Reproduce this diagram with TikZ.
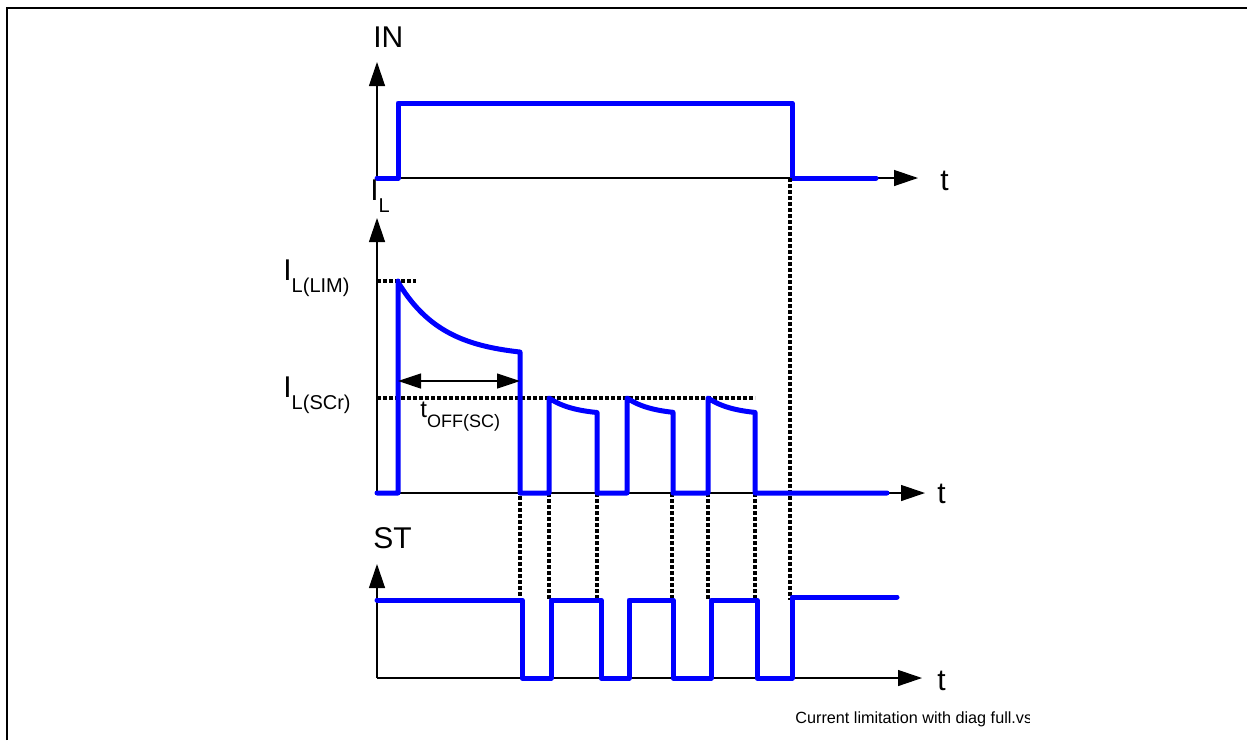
\documentclass[tikz,border=0pt]{standalone}
\usepackage{fontspec}
\setmainfont{Liberation Sans}
\usetikzlibrary{arrows.meta}
\newcommand\mysub[1]{\raisebox{-6pt}{\fontsize{10}{12}\selectfont #1}}
\tikzset{
  axis/.style={line width=0.65pt, -{Triangle[length=12pt,width=8pt]}},
  sig/.style={line width=2.5pt, color=sigblue, line join=round, line cap=round},
  guide/.style={line width=1.6pt, dash pattern=on 1.8pt off 1.2pt, black},
  lbl/.style={anchor=base west, inner sep=0pt, font=\fontsize{15}{18}\selectfont},
  dim/.style={line width=0.6pt, {Triangle[length=11.5pt,width=7.5pt]}-{Triangle[length=11.5pt,width=7.5pt]}},
}
\definecolor{sigblue}{RGB}{0,0,255}
\begin{document}
\begin{tikzpicture}[x=0.5pt,y={(0pt,-0.5pt)}]
\useasboundingbox (0,0) rectangle (1247,740);
% frame
\draw[line width=1pt] (7,740) -- (7,8) -- (1247,8);

% ---- IN ----
\coordinate (in0) at (377,178);
\draw[axis] (in0) -- (377,62);
\draw[axis] (in0) -- (918,178);
\node[lbl] (inlab) at (373,47) {IN};
\node[lbl] (tin) at (940,190) {t};
\draw[sig] (in0) -- (398,178) -- (398,103) -- (792,103) -- (792,178) -- (876,178);

% ---- IL ----
\coordinate (il0) at (377,493);
\node[lbl] (illab) at (370,200) {I\mysub{L}};
\draw[axis] (il0) -- (377,218);
\draw[axis] (il0) -- (925,493);
\node[lbl] (til) at (937,503) {t};
\node[lbl] (lim) at (283,280) {I\mysub{L(LIM)}};
\node[lbl] (scr) at (283,397) {I\mysub{L(SCr)}};
\draw[guide] (377,281) -- (416,281);
\draw[guide] (377,398) -- (755,398);

% dotted verticals
\draw[guide] (520,352) -- (520,600);
\draw[guide] (549,493) -- (549,600);
\draw[guide] (597,493) -- (597,600);
\draw[guide] (672,493) -- (672,600);
\draw[guide] (708,493) -- (708,600);
\draw[guide] (755,493) -- (755,600);
\draw[guide] (790,178) -- (790,600);

% current waveform
\draw[sig] (il0) -- (398,493) -- (398,281)
  -- plot[domain=398:520, samples=50] (\x, {357-75*exp(-(\x-398)/45)})
  -- (520,493) -- (549,493) -- (549,398)
  -- plot[domain=549:597, samples=25] (\x, {398+17*(1-exp(-(\x-549)/25))})
  -- (597,493) -- (627,493) -- (627,398)
  -- plot[domain=627:673, samples=25] (\x, {398+17*(1-exp(-(\x-627)/25))})
  -- (673,493) -- (708,493) -- (708,398)
  -- plot[domain=708:755, samples=25] (\x, {398+17*(1-exp(-(\x-708)/25))})
  -- (755,493) -- (887,493);

% t_OFF(SC)
\coordinate (da) at (398,381);
\coordinate (db) at (520,381);
\draw[dim] (da) -- (db);
\node[anchor=base west, inner sep=0pt, font=\fontsize{12}{14}\selectfont] (toff) at (420,417) {t\raisebox{-5pt}{\fontsize{9}{11}\selectfont OFF(SC)}};

% ---- ST ----
\coordinate (st0) at (377,678);
\node[lbl] (stlab) at (373,548) {ST};
\draw[axis] (st0) -- (377,564);
\draw[axis] (st0) -- (922,678);
\node[lbl] (tst) at (937,690) {t};
\draw[sig] (377,600) -- (522,600) -- (522,678) -- (551,678) -- (551,600) -- (601,600)
  -- (601,678) -- (629,678) -- (629,600) -- (673,600) -- (673,678) -- (711,678)
  -- (711,600) -- (757,600) -- (757,678) -- (792,678) -- (792,597) -- (897,597);

% caption
\begin{scope}
\clip (780,700) rectangle (1029,735);
\node[anchor=base west, inner sep=0pt, font=\fontsize{8.1}{10}\selectfont] (cap) at (795,723) {Current limitation with diag full.vsd};
\end{scope}
\end{tikzpicture}
\end{document}
